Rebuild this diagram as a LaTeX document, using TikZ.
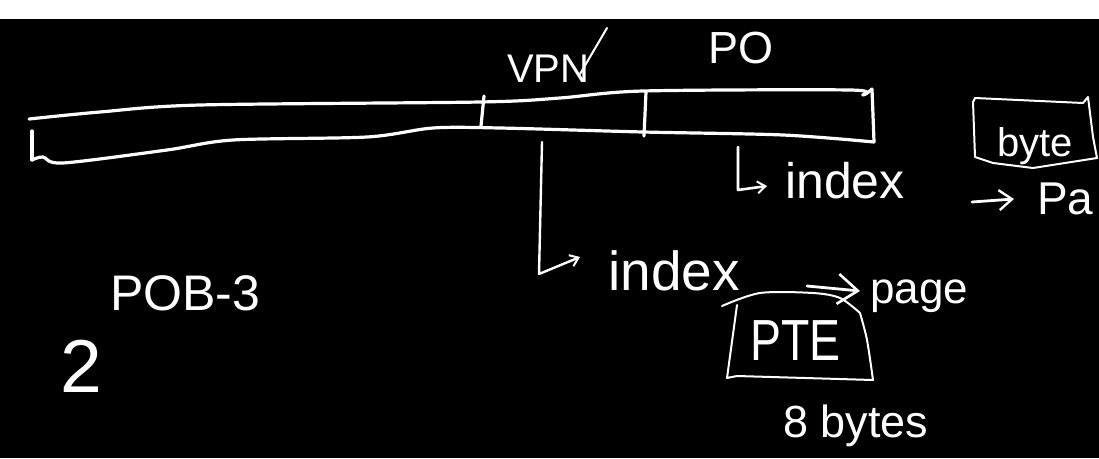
\documentclass[tikz,border=0pt]{standalone}
\usepackage{fontspec}
\setmainfont{Liberation Sans}
\usetikzlibrary{arrows.meta}
\tikzset{
  ink/.style={draw=white, line width=3.2pt, line cap=round, line join=round},
  thin ink/.style={draw=white, line width=2pt, line cap=round, line join=round},
  hand arrow/.style={-{Straight Barb[length=20pt,width=30pt,line width=2.6pt]}},
  small arrow/.style={-{Straight Barb[length=8pt,width=12pt,line width=2pt]}},
  txt/.style={text=white, inner sep=0pt, anchor=base west},
}
\newcommand{\fs}[1]{\fontsize{#1}{#1}\selectfont}
\begin{document}
\begin{tikzpicture}[x=1pt,y=-1pt]
\useasboundingbox (0,0) rectangle (1099,458);
\fill[white] (0,0) rectangle (1099,19);
\fill[black] (0,19) rectangle (1099,458);

% long address bar
\draw[ink] plot[smooth, tension=0.5] coordinates {(29,119) (100,112) (200,105) (480,102) (560,98) (643,91) (850,90) (863,95) (872,89)};
\draw[ink] (872,89) -- (874,142);
\draw[ink] plot[smooth, tension=0.5] coordinates {(874,142) (783,135) (643,132) (500,128) (433,128) (367,137) (233,140) (167,150) (63,163) (43,157) (32,160)};
\draw[ink] (32,160) -- (32,131);
\draw[ink] (484,96) -- (481,126);
\draw[ink] (646,92) -- (644,136);

% labels above bar
\node[txt, font=\fs{40}] (vpn) at (507,82) {VPN};
\draw[thin ink] (580,74) -- (607,28);
\node[txt, font=\fs{45}] (po) at (708,63) {PO};

% index arrows
\coordinate (a1) at (542,142);
\coordinate (a1c) at (539,274);
\node[txt, font=\fs{55}] (idx1) at (608,290) {index};
\draw[thin ink, line width=2.4pt, small arrow] (a1) -- (a1c) -- (580,257);

\coordinate (a2) at (738,147);
\coordinate (a2c) at (738,190);
\node[txt, font=\fs{50}] (idx2) at (785,198) {index};
\draw[thin ink, line width=2.6pt, small arrow] (a2) -- (a2c) -- (767,186);

% page
\node[txt, font=\fs{44}] (page) at (870,303) {page};
\coordinate (p1) at (807,286);
\draw[ink, line width=2.8pt, hand arrow] (p1) -- (860,291);

% PTE box
\draw[thin ink] plot[smooth, tension=0.5] coordinates {(722,306) (760,293) (813,293) (840,298) (860,313)};
\draw[thin ink] plot[smooth, tension=0.5] coordinates {(860,313) (867,340) (873,380)};
\draw[thin ink] (873,380) -- (737,376) -- (727,378) -- (737,305);
\node[txt, font=\fs{58}] (pte) at (750,360) {\scalebox{0.8}[1]{PTE}};
\node[txt, font=\fs{45}] (bytes) at (783,437) {8 bytes};

% byte box
\draw[thin ink] (975,98) -- (1083,103) -- (1088,97) -- (1093,137) -- (1097,158)
  -- (1033,168) -- (993,163) -- (975,157) -- (973,102) -- cycle;
\node[txt, font=\fs{40}] (byte) at (997,156) {byte};
\node[txt, font=\fs{46}] (pa) at (1037,214) {Pa};
\coordinate (p2) at (972,202);
\draw[ink, line width=2.8pt, -{Straight Barb[length=13pt,width=20pt,line width=2.4pt]}] (p2) -- (1014,199);

% left side
\node[txt, font=\fs{50}] (pob) at (110,310) {POB-3};
\node[txt, font=\fs{75}] (two) at (60,392) {2};
\end{tikzpicture}
\end{document}
